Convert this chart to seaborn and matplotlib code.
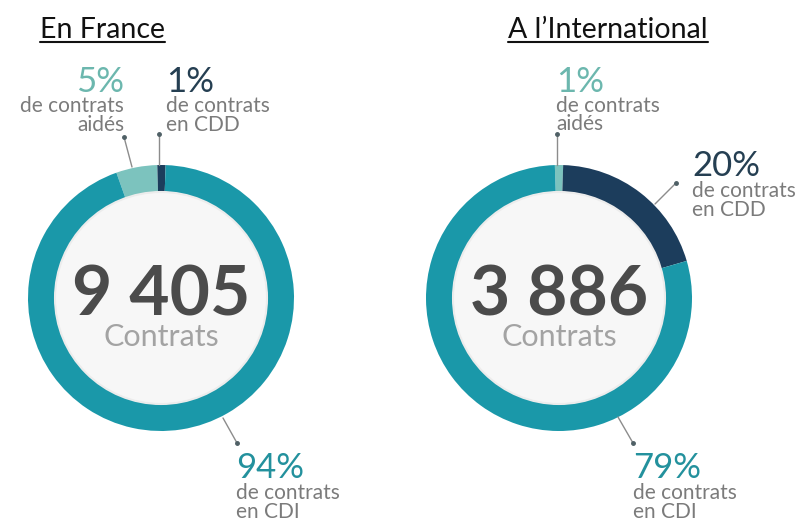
import numpy as np
import matplotlib
matplotlib.use("Agg")
import matplotlib.pyplot as plt
import seaborn as sns
from matplotlib.patches import Circle

# === Données ===
types = ["aidés", "CDD", "CDI"]
france = [5, 1, 94]
intl = [1, 20, 79]
totals = ["9 405", "3 886"]
titles = ["En France", "A l\u2019International"]
pct_labels = [["5%", "1%", "94%"], ["1%", "20%", "79%"]]
sub_labels = [["de contrats", "aidés"], ["de contrats", "en CDD"], ["de contrats", "en CDI"]]

sns.set_theme(style="white")
plt.rcParams['font.family'] = ['Lato', 'DejaVu Sans']

W, H = 807, 523
ring_cols = sns.color_palette(["#7cc3be", "#1c3d5c", "#1a98a9"])
pct_cols = ["#6cb7ae", "#253f52", "#23919d"]
grey = "#7b7b7b"

fig = plt.figure(figsize=(W / 100, H / 100), dpi=100)
ax = fig.add_axes([0, 0, 1, 1])

def Y(y):
    return H - y

R, ring_w = 133, 27
centers = [(161, 298), (559, 298)]
starts = [109.6, 91.8]

# === Donuts ===
for (cx, cy), vals, st, tot in zip(centers, [france, intl], starts, totals):
    ax.pie(vals, colors=ring_cols, startangle=st, counterclock=False,
           radius=R, center=(cx, Y(cy)),
           wedgeprops=dict(width=ring_w, edgecolor="none", linewidth=0))
    ax.add_patch(Circle((cx, Y(cy)), R - ring_w, facecolor="#f7f7f7",
                        edgecolor="#ececec", lw=1.5, zorder=3))
    ax.text(cx, Y(316), tot, ha="center", va="baseline", fontsize=50,
            fontweight="bold", color="#4b4b4b", zorder=4)
    ax.text(cx, Y(346), "Contrats", ha="center", va="baseline", fontsize=22,
            color="#a3a3a3", zorder=4)

# === Étiquettes ===
# (x, baseline pct, baseline ligne 1, baseline ligne 2, ha)
layout = [
    [(124, 92, 112, 131, "right"), (166, 92, 112, 131, "left"), (236, 478, 499, 518, "left")],
    [(556, 92, 112, 130, "left"), (692, 176, 197, 216, "left"), (633, 478, 499, 518, "left")],
]
leaders = [
    [((124, 137), (132, 167)), ((159, 134), (159, 165)), ((237, 443), (223, 418))],
    [((557, 134), (557, 165)), ((676, 183), (655, 204)), ((633, 443), (618, 417))],
]
for d in range(2):
    for k in range(3):
        x, yp, y1, y2, ha = layout[d][k]
        ax.text(x, Y(yp), pct_labels[d][k], ha=ha, va="baseline", fontsize=25,
                color=pct_cols[k])
        ax.text(x, Y(y1), sub_labels[k][0], ha=ha, va="baseline", fontsize=15, color=grey)
        ax.text(x, Y(y2), sub_labels[k][1], ha=ha, va="baseline", fontsize=15, color=grey)
        (x0, y0), (x1, y1_) = leaders[d][k]
        ax.plot([x0, x1], [Y(y0), Y(y1_)], color="#8c8c8c", lw=1, zorder=5)
        ax.plot([x0], [Y(y0)], "o", ms=2.5, color="#4f6066", zorder=5)

# === Titres soulignés ===
ax.set_xlim(0, W)
ax.set_ylim(0, H)
ax.set_aspect("equal")
ax.axis("off")
renderer = fig.canvas.get_renderer()
for t, cx in zip(titles, [102, 608]):
    txt = ax.text(cx, Y(38), t, ha="center", va="baseline", fontsize=20.5, color="#111111")
    bb = txt.get_window_extent(renderer=renderer)
    ax.plot([bb.x0, bb.x1], [Y(42), Y(42)], color="#111111", lw=1.5)

fig.savefig("out.png", dpi=100, facecolor="white")
